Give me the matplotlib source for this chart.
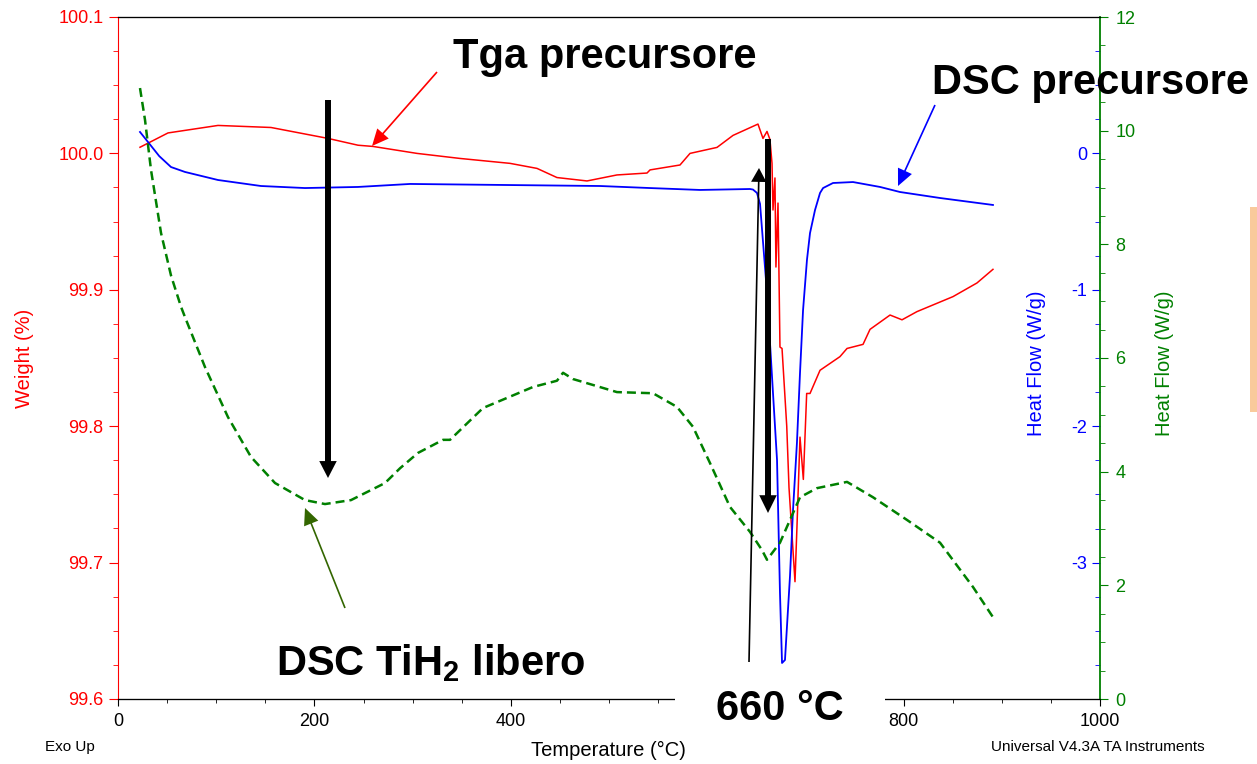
import matplotlib
matplotlib.use('Agg')
import matplotlib.pyplot as plt
from matplotlib.patches import Rectangle
from matplotlib.ticker import MultipleLocator, FixedLocator, FormatStrFormatter, FixedFormatter

plt.rcParams['font.family'] = ['Liberation Sans', 'DejaVu Sans']
plt.rcParams['mathtext.fontset'] = 'custom'
plt.rcParams['mathtext.rm'] = 'Liberation Sans'
plt.rcParams['mathtext.bf'] = 'Liberation Sans:bold'
plt.rcParams['axes.unicode_minus'] = False

# TGA precursore: temperatura (°C), peso (%)
tga_t = [22.4, 50.9, 101.8, 155.8, 213.8, 244.4, 259.7, 304.5, 348.3, 399.2,
         426.7, 447.0, 477.6, 508.1, 538.7, 541.8, 572.3, 582.5, 610.0, 626.3,
         651.7, 656.8, 660.9, 663.9, 666.0, 667.0, 669.0, 670.0, 672.1, 674.1,
         676.2, 681.0, 683.3, 689.4, 691.4, 694.5, 697.9, 701.3, 704.7, 714.9,
         735.2, 742.4, 758.7, 765.8, 786.2, 798.4, 813.6, 850.3, 874.7, 891.0]
tga_w = [100.0045, 100.015, 100.0205, 100.019, 100.011, 100.006, 100.0051, 100.0, 99.9963, 99.9927,
         99.989, 99.9823, 99.9798, 99.9842, 99.9856, 99.9879, 99.9915, 100.0, 100.0044, 100.0132,
         100.0215, 100.011, 100.0161, 100.0102, 99.9927, 99.9585, 99.982, 99.9167, 99.9636, 99.858,
         99.857, 99.800, 99.755, 99.686, 99.726, 99.792, 99.761, 99.824, 99.824, 99.841,
         99.851, 99.857, 99.860, 99.871, 99.8815, 99.878, 99.884, 99.895, 99.905, 99.915]

# DSC precursore: heat flow (W/g)
dsc_t = [22.4, 30.5, 42.0, 54.0, 68.2, 101.8, 145.6, 190.4, 244.4, 297.4, 399.2,
         490.8, 541.8, 592.7, 643.6, 646.6, 650.7, 653.8, 660.9, 667.0, 671.1,
         674.1, 676.2, 679.2, 684.3, 687.4, 691.4, 694.5, 697.6, 701.6, 704.7,
         709.8, 714.9, 718.0, 728.1, 748.5, 776.0, 796.3, 837.1, 891.0]
dsc_hf = [0.157, 0.084, -0.020, -0.100, -0.136, -0.195, -0.239, -0.254, -0.246, -0.224, -0.232,
          -0.239, -0.254, -0.268, -0.261, -0.265, -0.290, -0.37, -1.023, -1.757, -2.247,
          -3.22, -3.736, -3.714, -3.10, -2.614, -2.12, -1.610, -1.15, -0.78, -0.584,
          -0.415, -0.290, -0.254, -0.217, -0.210, -0.246, -0.283, -0.327, -0.378]

# DSC TiH2 libero: heat flow (W/g)
tih2_t = [22.4, 27.5, 33.6, 43.8, 54.0, 64.2, 68.2, 88.6, 112.0, 135.4, 159.9,
          190.4, 210.8, 237.3, 271.9, 287.2, 305.5, 331.0, 338.1, 371.7, 422.6,
          447.0, 453.2, 463.3, 508.1, 544.8, 569.2, 585.5, 602.9, 623.2, 643.6,
          655.8, 660.9, 674.1, 694.5, 711.8, 742.4, 768.8, 803.5, 837.1, 870.7, 891.0]
tih2_hf = [10.75, 10.19, 9.31, 8.20, 7.45, 6.90, 6.72, 5.84, 4.96, 4.26, 3.80,
           3.50, 3.43, 3.50, 3.80, 4.06, 4.33, 4.56, 4.56, 5.12, 5.49,
           5.60, 5.74, 5.63, 5.40, 5.38, 5.14, 4.79, 4.15, 3.38, 2.94,
           2.62, 2.45, 2.75, 3.55, 3.71, 3.82, 3.55, 3.15, 2.75, 1.97, 1.44]

x_ticks = [0, 200, 400, 600, 800, 1000]
x_labels = ['0', '200', '400', '', '800', '1000']   # 600 nascosto dal riquadro "660 °C"

W, H = 1257, 764
GREEN = '#008000'

fig = plt.figure(figsize=(W / 100, H / 100), dpi=100)
ax = fig.add_axes([118 / W, 65 / H, 982 / W, 682 / H])

# asse peso (rosso)
ax.plot(tga_t, tga_w, color='red', lw=1.1)
ax.set_xlim(0, 1000)
ax.set_ylim(99.6, 100.1)
ax.xaxis.set_major_locator(FixedLocator(x_ticks))
ax.xaxis.set_major_formatter(FixedFormatter(x_labels))
ax.xaxis.set_minor_locator(MultipleLocator(50))
ax.yaxis.set_major_locator(MultipleLocator(0.1))
ax.yaxis.set_minor_locator(MultipleLocator(0.025))
ax.yaxis.set_major_formatter(FormatStrFormatter('%.1f'))
ax.tick_params(axis='x', which='major', length=5, pad=5, labelsize=13)
ax.tick_params(axis='x', which='minor', length=3)
ax.tick_params(axis='y', which='both', colors='red')
ax.tick_params(axis='y', which='major', length=6.5, pad=4, labelsize=13)
ax.tick_params(axis='y', which='minor', length=3.6)
ax.spines['left'].set_color('red')
ax.spines['right'].set_visible(False)
ax.set_ylabel('Weight (%)', color='red', fontsize=14.5)
ax.yaxis.set_label_coords(-0.0855, 0.5)
ax.set_xlabel('Temperature (°C)', fontsize=14.5)
ax.xaxis.set_label_coords(0.499, -0.0616)

# asse heat flow precursore (blu), tacche interne sul bordo destro
ax2 = ax.twinx()
ax2.plot(dsc_t, dsc_hf, color='blue', lw=1.3)
ax2.set_ylim(-4, 1)
ax2.yaxis.tick_left()
ax2.yaxis.set_label_position('left')
ax2.spines['left'].set_position(('axes', 1.0))
ax2.spines['left'].set_visible(False)
ax2.spines['right'].set_visible(False)
ax2.yaxis.set_major_locator(FixedLocator([-3, -2, -1, 0]))
ax2.yaxis.set_minor_locator(MultipleLocator(0.25))
ax2.tick_params(axis='y', which='both', colors='blue')
ax2.tick_params(axis='y', which='major', length=6, pad=3, labelsize=13)
ax2.tick_params(axis='y', which='minor', length=3.6)
ax2.set_ylabel('Heat Flow (W/g)', color='blue', fontsize=14.5)
ax2.yaxis.set_label_coords(0.945, 0.493)

# asse heat flow TiH2 (verde)
ax3 = ax.twinx()
ax3.plot(tih2_t, tih2_hf, color=GREEN, lw=1.8, ls=(0, (3.6, 2.0)))
ax3.set_ylim(0, 12)
ax3.yaxis.set_major_locator(MultipleLocator(2))
ax3.yaxis.set_minor_locator(MultipleLocator(0.5))
ax3.spines['right'].set_color(GREEN)
ax3.spines['right'].set_linewidth(1.3)
ax3.spines['left'].set_visible(False)
ax3.tick_params(axis='y', which='both', colors=GREEN)
ax3.tick_params(axis='y', which='major', length=6, pad=5, labelsize=13)
ax3.tick_params(axis='y', which='minor', length=3.6)
ax3.set_ylabel('Heat Flow (W/g)', color=GREEN, fontsize=14.5)
ax3.yaxis.set_label_coords(1.056, 0.493)


def arrow(tail, tip, color, hl, hw, tw):
    # coordinate in pixel della figura, origine in alto a sinistra
    ax3.annotate('', xy=(tip[0], H - tip[1]), xycoords='figure pixels',
                 xytext=(tail[0], H - tail[1]), textcoords='figure pixels',
                 annotation_clip=False,
                 arrowprops=dict(arrowstyle=f'simple,head_length={hl},head_width={hw},tail_width={tw}',
                                 mutation_scale=1, color=color, lw=0,
                                 shrinkA=0, shrinkB=0))


arrow((437, 72), (372, 146), 'red', 12, 11, 1.2)
arrow((935, 105), (898, 186), 'blue', 12, 11, 1.2)
arrow((345, 608), (305, 508), '#336600', 12, 11, 1.2)
arrow((328, 100), (328, 478), 'black', 12.2, 12.6, 4.3)
arrow((768, 139), (768, 513), 'black', 12.8, 12.6, 4.3)
arrow((749, 662), (759, 168), 'black', 10, 11, 1.2)

# riquadro bianco sotto "660 °C"
fig.patches.append(Rectangle((675 / W, 1 - 740 / H), 210 / W, 72 / H,
                             transform=fig.transFigure, facecolor='white',
                             edgecolor='none', zorder=2))
fig.patches.append(Rectangle((1250 / W, 1 - 412 / H), 7 / W, 205 / H,
                             transform=fig.transFigure, facecolor='#F9CA9C',
                             edgecolor='none', zorder=2))

big = dict(fontsize=30, fontweight='bold', ha='center', va='baseline', zorder=5)
fig.text(605 / W, 1 - 68 / H, 'Tga precursore', **big)
fig.text(1091 / W, 1 - 94 / H, 'DSC precursore', **big)
fig.text(431 / W, 1 - 675 / H, r'DSC TiH$_\mathbf{2}$ libero', **big)
fig.text(780 / W, 1 - 720 / H, '660 °C', **big)

fig.text(45 / W, 1 - 747 / H, 'Exo Up', fontsize=11, ha='left', va='center')
fig.text(1205 / W, 1 - 747 / H, 'Universal V4.3A TA Instruments', fontsize=11,
         ha='right', va='center')

fig.savefig('out.png', dpi=100)
